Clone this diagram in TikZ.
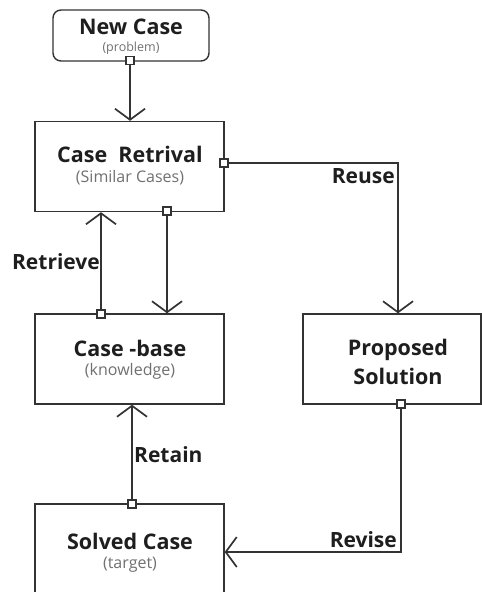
\documentclass[tikz,border=0pt]{standalone}
\usepackage{fontspec}
\setmainfont{Open Sans}
\usetikzlibrary{arrows.meta,calc}
\definecolor{linec}{HTML}{333333}
\definecolor{txtc}{HTML}{1E1E1E}
\definecolor{subc}{HTML}{707070}
\begin{document}
\begin{tikzpicture}[x=1pt,y=-1pt,
  box/.style={draw=linec, line width=1.4pt, fill=white, minimum width=189pt, minimum height=90pt, inner sep=0pt, align=center, text=txtc},
  port/.style={draw=linec, line width=1.1pt, fill=white, minimum size=8pt, inner sep=0pt},
  conn/.style={draw=linec, line width=1.7pt},
  arr/.style={conn, -{Straight Barb[length=11pt,width=30pt,line width=1.7pt]}},
  ttl/.style={font=\fontsize{21.5}{29}\selectfont\bfseries},
  sub/.style={font=\fontsize{16}{19}\selectfont, text=subc},
  lbl/.style={font=\fontsize{21}{24}\selectfont\bfseries, text=txtc, inner sep=0pt}
]
\useasboundingbox (0,0) rectangle (482,592);
% boxes
\node[box, minimum width=156pt, minimum height=51pt, rounded corners=8pt] (nc) at (131,35.5) {};
\node[ttl, text=txtc] (nct) at (131,27) {New Case};
\node[font=\fontsize{12.5}{15}\selectfont, text=subc] (ncs) at (131,48) {(problem)};

\node[box] (cr) at (129.5,166.5) {};
\node[ttl, text=txtc] (crt) at (130,154) {Case\ \ Retrival};
\node[sub] (crs) at (130,178) {(Similar Cases)};

\node[box] (cb) at (129.5,359) {};
\node[ttl, text=txtc] (cbt) at (130,348) {Case -base};
\node[sub] (cbs) at (130,371) {(knowledge)};

\node[box, minimum width=178pt] (ps) at (392,359) {};
\node[ttl, text=txtc, align=center] (pst) at (398,362) {Proposed\\Solution};

\node[box] (sc) at (129.5,549) {};
\node[ttl, text=txtc] (sct) at (130,541) {Solved Case};
\node[sub] (scs) at (130,565) {(target)};

% ports
\node[port] (p0) at (130,60.5) {};
\node[port] (p1) at (224,163) {};
\node[port] (p2) at (167,211) {};
\node[port] (p3) at (101,314) {};
\node[port] (p4) at (401,404) {};
\node[port] (p5) at (132,504) {};
\coordinate (rx) at (398,0);
\coordinate (ry) at (0,552);

% connectors
\draw[arr] (p0) -- (p0 |- cr.north);
\draw[arr] (p1) -| (rx |- ps.north);
\draw[arr] (p2) -- (p2 |- cb.north);
\draw[arr] (p3) -- (p3 |- cr.south);
\draw[arr] (p5) -- (p5 |- cb.south);
\draw[arr] (p4) |- (sc.east |- ry);
\node[port] at (p0) {};
\node[port] at (p1) {};
\node[port] at (p2) {};
\node[port] at (p3) {};
\node[port] at (p4) {};
\node[port] at (p5) {};

% labels
\node[lbl, anchor=east] (lr) at (100,262) {Retrieve};
\node[lbl, anchor=east] (lu) at (395,176) {Reuse};
\node[lbl, anchor=west] (lt) at (134,455) {Retain};
\node[lbl, anchor=east] (lv) at (397,540) {Revise};
\end{tikzpicture}
\end{document}
